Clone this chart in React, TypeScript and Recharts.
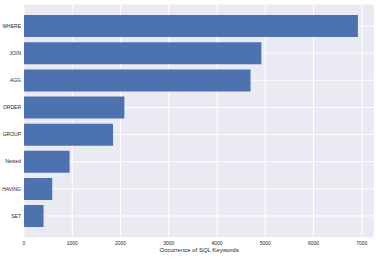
import React from "react";
import { BarChart, Bar, XAxis, YAxis, CartesianGrid, Label } from "recharts";

const keywords = ["WHERE", "JOIN", "AGG", "ORDER", "GROUP", "Nested", "HAVING", "SET"];
const counts = [6920, 4920, 4695, 2080, 1845, 945, 585, 405];
const xTicks = [0, 1000, 2000, 3000, 4000, 5000, 6000, 7000];

const data = keywords.map((k, i) => ({ keyword: k, count: counts[i] }));

const tickStyle = { fontSize: 5, fill: "#262626", fontFamily: "Liberation Sans, Arial, sans-serif" };

// grid lines through the middle of each category band (matplotlib style)
const bandCenters = ({ yAxis }: any) => {
  try {
    const s = yAxis?.scale;
    if (!s) return [];
    const mapFn =
      typeof s === "function" ? s : typeof s.map === "function" ? (v: string) => s.map(v) : null;
    if (!mapFn) return [];
    const bw = typeof s.bandwidth === "function" ? s.bandwidth() : 0;
    return keywords.map((k) => mapFn(k) + bw / 2).filter((v) => Number.isFinite(v));
  } catch (e) {
    return [];
  }
};

const App: React.FC = () => {
  return (
    <div style={{ position: "absolute", left: 0, top: 0 }}>
      <BarChart
        width={377}
        height={262}
        data={data}
        layout="vertical"
        margin={{ top: 4.6, right: 2.7, bottom: 0, left: 0 }}
        barCategoryGap="10%"
      >
        <CartesianGrid
          fill="#EAEAF2"
          stroke="#ffffff"
          strokeWidth={1}
          horizontalCoordinatesGenerator={bandCenters}
        />
        <XAxis
          type="number"
          domain={[0, 7260]}
          ticks={xTicks}
          allowDataOverflow
          height={24.7}
          tickLine={false}
          axisLine={false}
          tickSize={0}
          tickMargin={4}
          tick={tickStyle}
        >
          <Label
            value="Occurrence of SQL Keywords"
            position="insideBottom"
            offset={10.5}
            style={{ fontSize: 6, fill: "#262626", fontFamily: "Liberation Sans, Arial, sans-serif" }}
          />
        </XAxis>
        <YAxis
          type="category"
          dataKey="keyword"
          width={24}
          padding={{ top: 7.8, bottom: 7.8 }}
          tickLine={false}
          axisLine={false}
          tickSize={0}
          tickMargin={3}
          tick={tickStyle}
          interval={0}
        />
        <Bar dataKey="count" fill="#4C72B0" isAnimationActive={false} />
      </BarChart>
    </div>
  );
};

export default App;
